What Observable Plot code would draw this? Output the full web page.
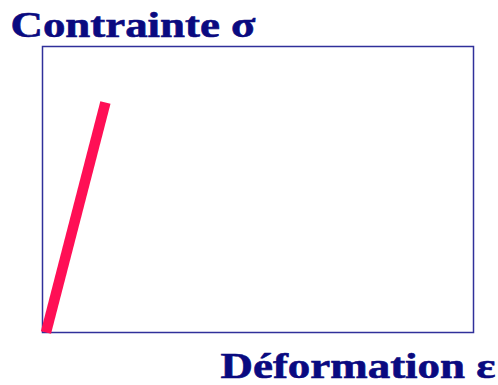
<!DOCTYPE html>
<html>
<head>
<meta charset="utf-8">
<script src="https://cdn.jsdelivr.net/npm/d3@7"></script>
<script src="https://cdn.jsdelivr.net/npm/@observablehq/plot@0.6"></script>
<style>
  html, body { margin: 0; padding: 0; background: #fff; }
</style>
</head>
<body>
<div id="chart"></div>
<script>
const yLabel = "Contrainte σ";
const xLabel = "Déformation ε";
const strain = [0.8, 14.6];
const stress = [0, 80.4];
const data = strain.map((x, i) => ({x, y: stress[i]}));

const fs = 36;
const textStyle = {fontFamily: "'Liberation Serif', serif", fontWeight: "bold", fontSize: fs, fill: "#0a0a80", lineAnchor: "middle"};

const chart = Plot.plot({
  width: 498,
  height: 385,
  marginLeft: 42,
  marginRight: 25,
  marginTop: 46,
  marginBottom: 53,
  x: {domain: [0, 100], axis: null},
  y: {domain: [0, 100], axis: null},
  marks: [
    Plot.frame({stroke: "#30309a", strokeWidth: 1.5}),
    Plot.line(data, {x: "x", y: "y", stroke: "#ff0f55", strokeWidth: 10.5, strokeLinecap: "butt"}),
    Plot.text([yLabel], {...textStyle, text: d => d, frameAnchor: "top-left", textAnchor: "start", dx: -32, dy: -21.5, className: "ylab"}),
    Plot.text([xLabel], {...textStyle, text: d => d, frameAnchor: "bottom-right", textAnchor: "end", dx: 22, dy: 33.5, className: "xlab"})
  ]
});
document.getElementById("chart").appendChild(chart);
const svg = d3.select(chart);
svg.selectAll(".ylab text").attr("textLength", 245).attr("lengthAdjust", "spacingAndGlyphs").attr("stroke", "#0a0a80").attr("stroke-width", 0.6);
svg.selectAll(".xlab text").attr("textLength", 275).attr("lengthAdjust", "spacingAndGlyphs").attr("stroke", "#0a0a80").attr("stroke-width", 0.6);
</script>
</body>
</html>
